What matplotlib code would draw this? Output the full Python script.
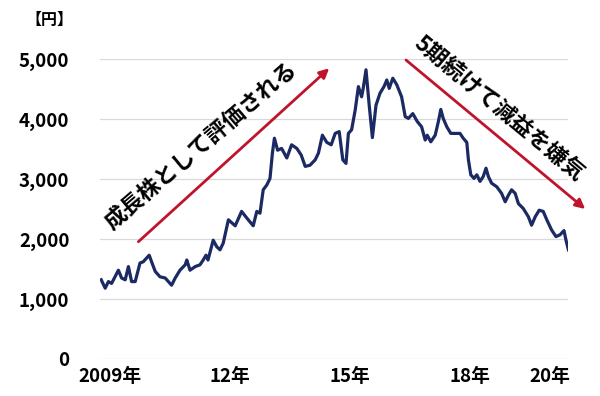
import matplotlib
matplotlib.use("Agg")
import matplotlib.pyplot as plt

plt.rcParams['font.family'] = ['Noto Sans CJK JP', 'DejaVu Sans']


# -----------------------------
# Data
# -----------------------------
years = [
    2008.78, 2008.88, 2008.96, 2009.04, 2009.21, 2009.29, 2009.38, 2009.46,
    2009.54, 2009.63, 2009.75, 2009.83, 2009.98, 2010.04, 2010.13, 2010.25,
    2010.38, 2010.46, 2010.54, 2010.63, 2010.75, 2010.88, 2010.92, 2011.00,
    2011.13, 2011.25, 2011.33, 2011.40, 2011.45, 2011.58, 2011.67, 2011.75,
    2011.83, 2011.96, 2012.13, 2012.29, 2012.42, 2012.58, 2012.67, 2012.75,
    2012.83, 2012.92, 2013.00, 2013.06, 2013.11, 2013.19, 2013.29, 2013.42,
    2013.54, 2013.67, 2013.78, 2013.88, 2014.00, 2014.13, 2014.21, 2014.31,
    2014.42, 2014.53, 2014.63, 2014.73, 2014.82, 2014.90, 2014.96, 2015.04,
    2015.13, 2015.21, 2015.29, 2015.33, 2015.40, 2015.48, 2015.56, 2015.65,
    2015.75, 2015.85, 2015.92, 2015.98, 2016.07, 2016.17, 2016.29, 2016.38,
    2016.46, 2016.57, 2016.68, 2016.79, 2016.88, 2016.93, 2017.02, 2017.13,
    2017.21, 2017.27, 2017.33, 2017.42, 2017.52, 2017.63, 2017.75, 2017.83,
    2017.92, 2017.96, 2018.02, 2018.10, 2018.17, 2018.25, 2018.33, 2018.40,
    2018.46, 2018.54, 2018.67, 2018.79, 2018.88, 2018.96, 2019.04, 2019.13,
    2019.21, 2019.33, 2019.46, 2019.54, 2019.63, 2019.73, 2019.83, 2019.92,
    2020.04, 2020.15, 2020.25, 2020.35, 2020.40, 2020.46,
]

price = [
    1320, 1180, 1290, 1260, 1480, 1350, 1320, 1540,
    1290, 1290, 1600, 1620, 1730, 1620, 1460, 1370,
    1350, 1290, 1230, 1350, 1480, 1570, 1650, 1480,
    1540, 1570, 1650, 1730, 1650, 1980, 1870, 1820,
    1930, 2320, 2220, 2460, 2350, 2220, 2460, 2430,
    2820, 2900, 3010, 3430, 3680, 3480, 3510, 3350,
    3570, 3510, 3400, 3210, 3230, 3320, 3430, 3730,
    3610, 3570, 3760, 3790, 3320, 3260, 3760, 3820,
    4150, 4540, 4370, 4510, 4820, 4230, 3690, 4230,
    4430, 4540, 4650, 4510, 4680, 4570, 4370, 4040,
    4010, 4090, 3960, 3870, 3650, 3730, 3620, 3730,
    3960, 4160, 4010, 3870, 3760, 3760, 3760, 3680,
    3610, 3320, 3070, 3010, 3070, 2960, 3040, 3180,
    3040, 2930, 2870, 2760, 2620, 2730, 2820, 2760,
    2590, 2510, 2370, 2230, 2370, 2480, 2460, 2320,
    2150, 2040, 2070, 2140, 1980, 1820,
]

ytick_vals = [0, 1000, 2000, 3000, 4000, 5000]
ytick_labels = ["0", "1,000", "2,000", "3,000", "4,000", "5,000"]
xtick_vals = [2009, 2012, 2015, 2018, 2020]
xtick_labels = ["2009年", "12年", "15年", "18年", "20年"]

unit_label = "【円】"
up_text = "成長株として評価される"
down_text = "5期続けて減益を嫌気"


# -----------------------------
# Figure
# -----------------------------
line_color = "#1b2a63"
arrow_color = "#c0142c"

fig = plt.figure(figsize=(6, 3.96), dpi=100)
ax = fig.add_axes([100 / 600, 37 / 396, 468 / 600, 300 / 396])

ax.plot(years, price, color=line_color, lw=2.3, solid_joinstyle="round")

ax.set_xlim(2008.75, 2020.45)
ax.set_ylim(0, 5000)

ax.set_yticks(ytick_vals)
ax.set_yticklabels(ytick_labels, fontsize=13.5, fontweight="bold")
ax.set_xticks(xtick_vals)
ax.set_xticklabels(xtick_labels, fontsize=13.5, fontweight="bold")
ax.tick_params(axis="y", length=0, pad=22)
ax.tick_params(axis="x", length=0, pad=6)

ax.grid(axis="y", color="#d9d9d9", lw=0.9)
ax.set_axisbelow(True)
for s in ax.spines.values():
    s.set_visible(False)

fig.text(25 / 600, 1 - 20 / 396, unit_label, fontsize=11.5, fontweight="bold",
         va="center", ha="left")


# -----------------------------
# Arrows and notes
# -----------------------------
ax.annotate("", xy=(2014.48, 4845), xytext=(2009.71, 1955),
            arrowprops=dict(arrowstyle="-|>", color=arrow_color, lw=2,
                            mutation_scale=14, shrinkA=0, shrinkB=0),
            annotation_clip=False)
ax.annotate("", xy=(2020.88, 2500), xytext=(2016.4, 4983),
            arrowprops=dict(arrowstyle="-|>", color=arrow_color, lw=2,
                            mutation_scale=14, shrinkA=0, shrinkB=0),
            annotation_clip=False)

ax.text(2011.28, 3550, up_text, fontsize=16, fontweight="bold", rotation=40.5,
        rotation_mode="anchor", ha="center", va="center", clip_on=False)
ax.text(2018.73, 4183, down_text, fontsize=16, fontweight="bold", rotation=-39.7,
        rotation_mode="anchor", ha="center", va="center", clip_on=False)

fig.savefig("out.png", dpi=100)
